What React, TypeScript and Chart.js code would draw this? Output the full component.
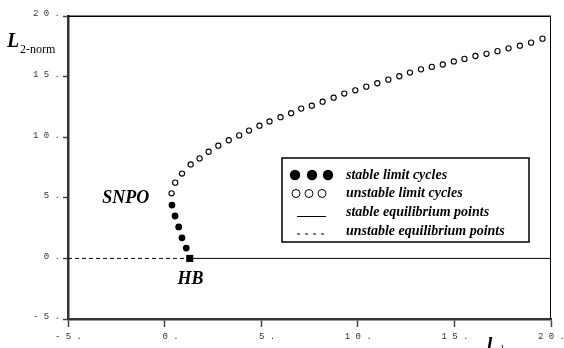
import React, { useEffect, useRef } from "react";
import { Chart, registerables } from "chart.js";

Chart.register(...registerables);

// ---- data ----
const xTickLabels = ["-5.", "0.", "5.", "10.", "15.", "20."];
const yTickLabels = ["-5.", "0.", "5.", "10.", "15.", "20."];

const hbX = [1.3];
const hbY = [0];

const unstableEqX = [-5, 1.3];
const unstableEqY = [0, 0];
const stableEqX = [1.3, 20];
const stableEqY = [0, 0];

const stableLcX = [1.12, 0.9, 0.73, 0.54, 0.38];
const stableLcY = [0.85, 1.7, 2.6, 3.5, 4.4];

const unstableLcX = [
  0.36, 0.55, 0.9, 1.35, 1.81, 2.28, 2.78, 3.32, 3.86, 4.37, 4.91, 5.43, 6.0,
  6.55, 7.07, 7.62, 8.18, 8.75, 9.3, 9.87, 10.44, 11.01, 11.58, 12.15, 12.7,
  13.27, 13.83, 14.4, 14.97, 15.52, 16.09, 16.66, 17.23, 17.8, 18.39, 18.97,
  19.56,
];
const unstableLcY = [
  5.37, 6.25, 7.0, 7.75, 8.25, 8.8, 9.3, 9.75, 10.15, 10.55, 10.95, 11.3,
  11.65, 11.98, 12.36, 12.6, 12.93, 13.26, 13.6, 13.87, 14.17, 14.45, 14.75,
  15.03, 15.33, 15.6, 15.8, 16.0, 16.25, 16.46, 16.7, 16.88, 17.1, 17.33,
  17.55, 17.8, 18.13,
];

const legendLabels = [
  "stable limit cycles",
  "unstable limit cycles",
  "stable equilibrium points",
  "unstable equilibrium points",
];

const annotations = [
  { text: "SNPO", x: -3.23, y: 4.57 },
  { text: "HB", x: 0.67, y: -2.15 },
];

const zip = (xs: number[], ys: number[]) => xs.map((x, i) => ({ x, y: ys[i] }));
const spaced = (s: string) => s.split("").join(" ");

const SERIF = '"Liberation Serif", "Times New Roman", serif';
const MONO = '"Liberation Mono", "Courier New", monospace';

const decorPlugin = {
  id: "decor",
  afterDraw(chart: any) {
    const { ctx, chartArea: a, scales } = chart;
    const xs = scales.x;
    const ys = scales.y;
    ctx.save();
    // top and right frame
    ctx.strokeStyle = "#000";
    ctx.lineWidth = 1.5;
    ctx.beginPath();
    ctx.moveTo(a.left, a.top + 0.25);
    ctx.lineTo(a.right, a.top + 0.25);
    ctx.stroke();
    ctx.lineWidth = 1;
    ctx.beginPath();
    ctx.moveTo(a.right - 0.5, a.top);
    ctx.lineTo(a.right - 0.5, a.bottom);
    ctx.stroke();

    // annotations
    ctx.fillStyle = "#000";
    ctx.font = `bold italic 18px ${SERIF}`;
    ctx.textBaseline = "alphabetic";
    ctx.textAlign = "left";
    annotations.forEach((an) => {
      ctx.fillText(an.text, xs.getPixelForValue(an.x), ys.getPixelForValue(an.y));
    });

    // axis titles
    ctx.font = `bold italic 20px ${SERIF}`;
    ctx.fillText("L", 7, 47);
    ctx.font = `12px ${SERIF}`;
    ctx.fillText("2-norm", 20, 52.5);
    ctx.font = `bold italic 19px ${SERIF}`;
    ctx.fillText("l", 487, 350);
    ctx.font = `9px ${SERIF}`;
    ctx.fillText("1", 500, 351);

    // legend box
    const bx = 282, by = 158, bw = 247, bh = 84;
    ctx.fillStyle = "#fff";
    ctx.fillRect(bx, by, bw, bh);
    ctx.strokeStyle = "#000";
    ctx.lineWidth = 1.5;
    ctx.strokeRect(bx, by, bw, bh);

    const rows = [175, 193.5, 212.5, 231];
    // row 1: filled circles
    ctx.fillStyle = "#000";
    [295, 312, 328].forEach((cx) => {
      ctx.beginPath();
      ctx.arc(cx, rows[0], 5.2, 0, Math.PI * 2);
      ctx.fill();
    });
    // row 2: open circles
    ctx.lineWidth = 1;
    [296, 309, 322].forEach((cx) => {
      ctx.beginPath();
      ctx.arc(cx, rows[1], 4, 0, Math.PI * 2);
      ctx.stroke();
    });
    // row 3: solid line
    ctx.beginPath();
    ctx.moveTo(297, rows[2] + 4);
    ctx.lineTo(326, rows[2] + 4);
    ctx.stroke();
    // row 4: dashed
    ctx.setLineDash([3, 5]);
    ctx.beginPath();
    ctx.moveTo(297, rows[3] + 3);
    ctx.lineTo(328, rows[3] + 3);
    ctx.stroke();
    ctx.setLineDash([]);

    ctx.fillStyle = "#000";
    ctx.font = `bold italic 14px ${SERIF}`;
    ctx.textBaseline = "middle";
    legendLabels.forEach((t, i) => ctx.fillText(t, 346, rows[i]));
    ctx.restore();
  },
};

export default function App() {
  const ref = useRef<HTMLCanvasElement | null>(null);

  useEffect(() => {
    document.body.style.margin = "0";
    const canvas = ref.current;
    if (!canvas) return;
    const chart = new Chart(canvas, {
      type: "scatter",
      data: {
        datasets: [
          {
            label: "unstable equilibrium points",
            data: zip(unstableEqX, unstableEqY),
            showLine: true,
            borderColor: "#000",
            borderWidth: 1,
            borderDash: [4, 3],
            pointRadius: 0,
          },
          {
            label: "stable equilibrium points",
            data: zip(stableEqX, stableEqY),
            showLine: true,
            borderColor: "#000",
            borderWidth: 1,
            pointRadius: 0,
          },
          {
            label: "unstable limit cycles",
            data: zip(unstableLcX, unstableLcY),
            pointRadius: 2.6,
            pointBorderWidth: 1.1,
            pointBorderColor: "#000",
            pointBackgroundColor: "#fff",
          },
          {
            label: "stable limit cycles",
            data: zip(stableLcX, stableLcY),
            pointRadius: 3.4,
            pointBorderWidth: 0,
            pointBackgroundColor: "#000",
            pointBorderColor: "#000",
          },
          {
            label: "HB",
            data: zip(hbX, hbY),
            pointStyle: "rect",
            pointRadius: 5,
            pointBorderWidth: 0,
            pointBackgroundColor: "#000",
            pointBorderColor: "#000",
          },
        ],
      },
      options: {
        animation: false,
        responsive: false,
        maintainAspectRatio: false,
        layout: { padding: { top: 16, right: 13, left: 0, bottom: 0 } },
        plugins: {
          legend: { display: false },
          tooltip: { enabled: false },
        },
        scales: {
          x: {
            type: "linear",
            min: -5,
            max: 20,
            afterFit: (s: any) => {
              s.height = 29;
            },
            border: { display: true, color: "#333", width: 2.5 },
            grid: {
              drawOnChartArea: false,
              drawTicks: true,
              tickLength: 8,
              tickColor: "#444",
              tickWidth: 1.5,
            },
            ticks: {
              stepSize: 5,
              autoSkip: false,
              maxRotation: 0,
              align: "end",
              labelOffset: 14,
              padding: 4,
              color: "#333",
              font: { family: MONO, size: 9 },
              callback: (_v: any, i: number) => spaced(xTickLabels[i]),
            },
          },
          y: {
            type: "linear",
            min: -5,
            max: 20,
            afterFit: (s: any) => {
              s.width = 68;
            },
            border: { display: true, color: "#333", width: 2.5 },
            grid: {
              drawOnChartArea: false,
              drawTicks: true,
              tickLength: 5,
              tickColor: "#444",
              tickWidth: 1.5,
            },
            ticks: {
              stepSize: 5,
              autoSkip: false,
              padding: 3,
              labelOffset: -2,
              color: "#333",
              font: { family: MONO, size: 9 },
              callback: (_v: any, i: number) => spaced(yTickLabels[i]),
            },
          },
        },
      },
      plugins: [decorPlugin],
    } as any);
    return () => chart.destroy();
  }, []);

  return (
    <div style={{ width: 564, height: 348, background: "#fff" }}>
      <canvas ref={ref} width={564} height={348} style={{ display: "block" }} />
    </div>
  );
}
